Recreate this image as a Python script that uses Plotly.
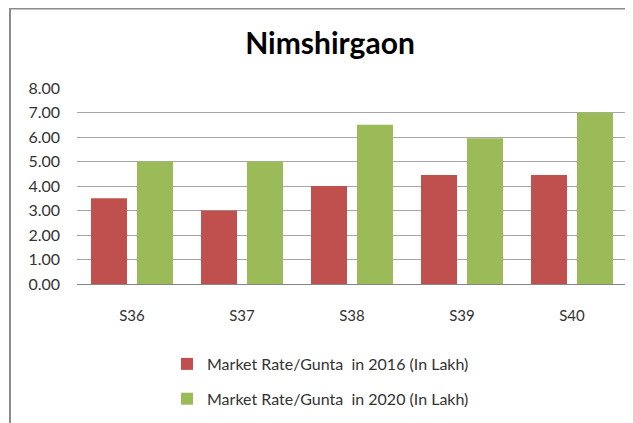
import plotly.graph_objects as go

categories = ["S36", "S37", "S38", "S39", "S40"]
rate_2016 = [3.5, 3.0, 4.0, 4.45, 4.45]
rate_2020 = [5.0, 5.0, 6.5, 5.95, 7.0]
y_ticks = [0, 1, 2, 3, 4, 5, 6, 7, 8]

# the page body adds an 8px offset; figure coordinates = target pixel - 8
OFF = 8
W, H = 633 - OFF, 423 - OFF
L, R, T, B = 77 - OFF, 6, 88 - OFF, 139
pw, ph = W - L - R, H - T - B

def px_x(x):
    return (x - OFF - L) / pw

def px_y(y):
    return (H - B - (y - OFF)) / ph

FONT = "Lato, Carlito, Calibri, sans-serif"

fig = go.Figure()
fig.add_trace(go.Bar(x=categories, y=rate_2016, name="Market Rate/Gunta  in 2016 (In Lakh)",
                     marker=dict(color="#c0504d", line=dict(width=0)), legendgroup="a"))
fig.add_trace(go.Bar(x=categories, y=rate_2020, name="Market Rate/Gunta  in 2020 (In Lakh)",
                     marker=dict(color="#9bbb59", line=dict(width=0)), legendgroup="b"))

fig.update_layout(
    width=W, height=H,
    margin=dict(l=L, r=R, t=T, b=B, pad=0, autoexpand=False),
    paper_bgcolor="white", plot_bgcolor="white",
    barmode="group", bargap=0.164, bargroupgap=0.217,
    font=dict(family=FONT, size=15, color="#333333"),
    title=dict(text="<b>Nimshirgaon</b>", x=(330 - OFF) / W, xref="container", xanchor="center",
               y=1 - 25 / H, yref="container", yanchor="top",
               font=dict(family=FONT, size=30, color="#000000")),
    xaxis=dict(showgrid=False, showline=True, linecolor="#868686", linewidth=1,
               ticks="", tickfont=dict(size=15, color="#333333"), ticklabelstandoff=18),
    yaxis=dict(range=[0, 8], tickvals=y_ticks, tickformat=".2f", showgrid=True,
               gridcolor="#a6a6a6", gridwidth=1, zeroline=False, showline=False,
               ticks="", tickfont=dict(size=16, color="#333333"), ticklabelstandoff=16),
    showlegend=True,
    legend=dict(orientation="v", x=px_x(167), xanchor="left", y=px_y(347), yanchor="top",
                font=dict(size=16, color="#333333"), tracegroupgap=11,
                itemwidth=30, bgcolor="rgba(0,0,0,0)"),
    shapes=[
        dict(type="line", xref="paper", yref="paper", x0=px_x(9), x1=px_x(640), y0=px_y(8.75), y1=px_y(8.75),
             line=dict(color="#8c8c8c", width=1.5)),
        dict(type="line", xref="paper", yref="paper", x0=px_x(10), x1=px_x(10), y0=px_y(8), y1=px_y(430),
             line=dict(color="#8c8c8c", width=2)),
    ],
)

fig.write_html("out.html")
